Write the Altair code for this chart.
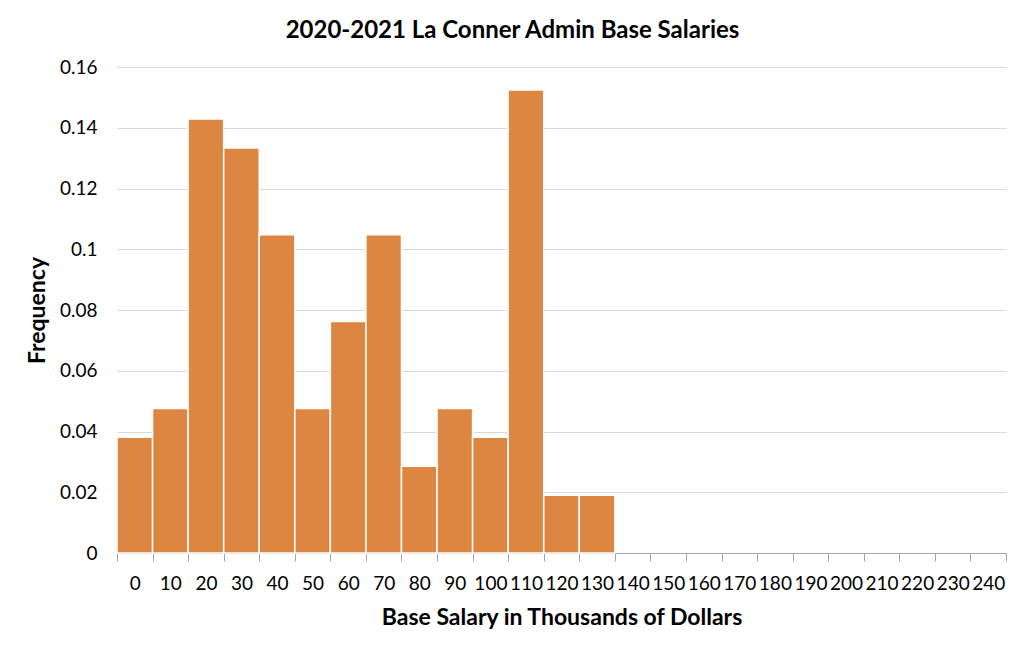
import altair as alt
import pandas as pd

bins = [0, 10, 20, 30, 40, 50, 60, 70, 80, 90, 100, 110, 120, 130]
freq = [0.0381, 0.0476, 0.1429, 0.1333, 0.1048, 0.0476, 0.0762, 0.1048,
        0.0286, 0.0476, 0.0381, 0.1524, 0.0190, 0.0190]
axis_ticks = list(range(0, 260, 10))
y_ticks = [0, 0.02, 0.04, 0.06, 0.08, 0.1, 0.12, 0.14, 0.16]
bin_width = 10

df = pd.DataFrame({"start": bins, "freq": freq})
df["end"] = df["start"] + bin_width

FONT = "Lato"
W, H = 889, 486

bars = alt.Chart(df).mark_bar(color="#DD8641", stroke="white", strokeWidth=1.5).encode(
    x=alt.X("start:Q",
            scale=alt.Scale(domain=[0, 250], nice=False, zero=True),
            axis=alt.Axis(values=axis_ticks, grid=False, domainColor="#a6a6a6",
                          tickColor="#a6a6a6", tickSize=8, labelOffset=17.8,
                          labelExpr="datum.value == 250 ? '' : datum.value",
                          labelFontSize=19, labelFont=FONT, labelColor="#000000",
                          labelPadding=13, labelFlush=False, labelOverlap=False,
                          title="Base Salary in Thousands of Dollars",
                          titleFont=FONT, titleFontSize=23, titleFontWeight="bold",
                          titleColor="#000000", titleX=W / 2, titleY=64,
                          titleBaseline="middle")),
    x2="end:Q",
    y=alt.Y("freq:Q",
            scale=alt.Scale(domain=[0, 0.16], nice=False),
            axis=alt.Axis(values=y_ticks, grid=True, gridColor="#d9d9d9",
                          domain=False, ticks=False, labelExpr="datum.value",
                          labelFontSize=19, labelFont=FONT, labelColor="#000000",
                          labelPadding=20,
                          title="Frequency", titleFont=FONT, titleFontSize=23,
                          titleFontWeight="bold", titleColor="#000000",
                          titleX=-80, titleY=H / 2, titleAngle=-90,
                          titleBaseline="middle", titleAlign="center")),
    y2=alt.Y2(datum=0),
)

chart = bars.properties(
    width=W, height=H,
    title=alt.TitleParams("2020-2021 La Conner Admin Base Salaries", font=FONT,
                          fontSize=24, fontWeight="bold", color="#000000",
                          anchor="middle", dx=-49, offset=15),
    autosize=alt.AutoSizeParams(type="none"),
    padding={"left": 109, "top": 59, "right": 10, "bottom": 90},
).configure(background="white", view=alt.ViewConfig(stroke=None))

chart.save("out.html", embed_options={"renderer": "svg", "actions": False})
